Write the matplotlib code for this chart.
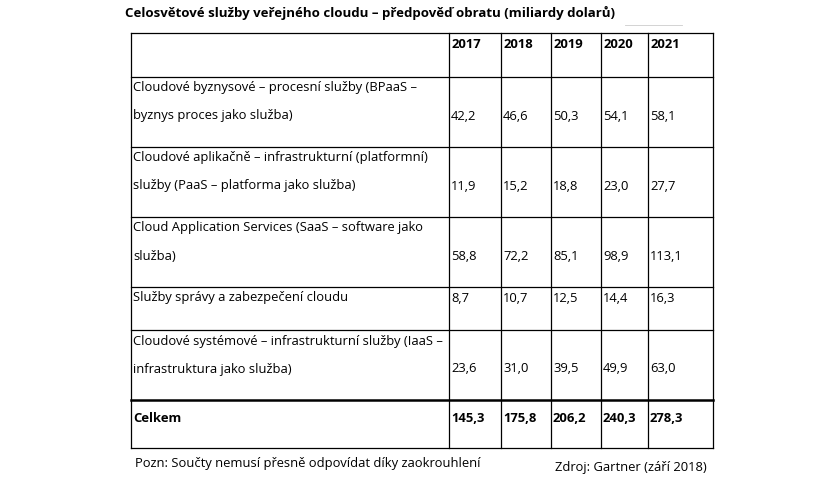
import matplotlib.pyplot as plt
from matplotlib.lines import Line2D

plt.rcParams['font.family'] = 'Open Sans'

title = 'Celosvětové služby veřejného cloudu – předpověď obratu (miliardy dolarů)'
years = ['2017', '2018', '2019', '2020', '2021']
rows = [
    'Cloudové byznysové – procesní služby (BPaaS –\nbyznys proces jako služba)',
    'Cloudové aplikačně – infrastrukturní (platformní)\nslužby (PaaS – platforma jako služba)',
    'Cloud Application Services (SaaS – software jako\nslužba)',
    'Služby správy a zabezpečení cloudu',
    'Cloudové systémové – infrastrukturní služby (IaaS –\ninfrastruktura jako služba)',
]
values = [
    ['42,2', '46,6', '50,3', '54,1', '58,1'],
    ['11,9', '15,2', '18,8', '23,0', '27,7'],
    ['58,8', '72,2', '85,1', '98,9', '113,1'],
    ['8,7', '10,7', '12,5', '14,4', '16,3'],
    ['23,6', '31,0', '39,5', '49,9', '63,0'],
]
total_label = 'Celkem'
totals = ['145,3', '175,8', '206,2', '240,3', '278,3']
note = 'Pozn: Součty nemusí přesně odpovídat díky zaokrouhlení'
source = 'Zdroj: Gartner (září 2018)'

fig = plt.figure(figsize=(8.4, 4.8), dpi=100)
ax = fig.add_axes([0, 0, 1, 1])
ax.set_xlim(0, 840)
ax.set_ylim(480, 0)
ax.axis('off')

col_x = [131, 449, 501, 551, 601, 648, 713]
row_y = [33, 77, 147, 217, 287, 330, 400, 448]
fs = 9.4

def line(x0, x1, y0, y1, lw=0.9, c='black'):
    ax.add_line(Line2D([x0, x1], [y0, y1], color=c, lw=lw))

for x in col_x:
    line(x, x, row_y[0], row_y[-1])
for i, y in enumerate(row_y):
    line(col_x[0], col_x[-1], y, y, lw=1.8 if i == 6 else 0.9)
line(625, 682, 25, 25, lw=0.6, c='#cccccc')

ax.text(125, 13, title, fontsize=9.5, fontweight='bold', va='center')
for j, yr in enumerate(years):
    ax.text(col_x[j + 1] + 3, 44, yr, fontsize=fs, fontweight='bold', va='center')

for i, r in enumerate(rows):
    top = row_y[i + 1]
    lines = r.split('\n')
    for k, t in enumerate(lines):
        ax.text(col_x[0] + 2, top + 11 + 28 * k, t, fontsize=fs, va='center')
    vy = top + 11 + 28 * (len(lines) - 1)
    for j, v in enumerate(values[i]):
        ax.text(col_x[j + 1] + 2, vy, v, fontsize=fs, va='center')

ax.text(col_x[0] + 2, 418, total_label, fontsize=fs, fontweight='bold', va='center')
for j, v in enumerate(totals):
    ax.text(col_x[j + 1] + 2, 418, v, fontsize=fs, fontweight='bold', va='center')

ax.text(135, 464, note, fontsize=fs, va='center')
ax.text(707, 467, source, fontsize=fs, va='center', ha='right')

fig.savefig('out.png', dpi=100)
